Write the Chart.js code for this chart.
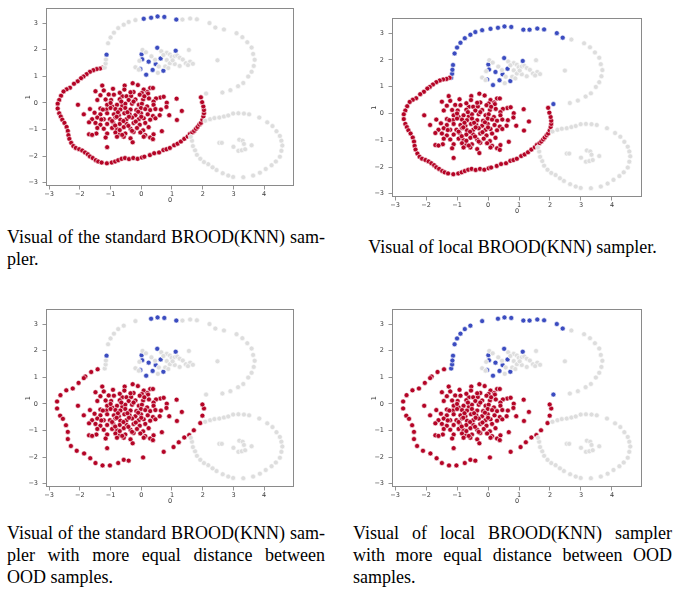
<!DOCTYPE html>
<html>
<head>
<meta charset="utf-8">
<script src="https://cdn.jsdelivr.net/npm/chart.js@4"></script>
<style>
  html, body { margin: 0; padding: 0; background: #fff; }
  body { width: 673px; height: 591px; position: relative; overflow: hidden; }
  canvas { position: absolute; }
  .cap { position: absolute; font-family: "Liberation Serif", "Times New Roman", serif;
         font-size: 18px; line-height: 22px; color: #000; }
  .cap .j { text-align: justify; text-align-last: justify; white-space: nowrap; }
  .cap .l { text-align: left; }
  .cap .c { text-align: center; }
</style>
</head>
<body>
<canvas id="p1"></canvas>
<canvas id="p2"></canvas>
<canvas id="p3"></canvas>
<canvas id="p4"></canvas>

<div class="cap" style="left:7px; top:226px; width:318px;">
  <div class="j">Visual of the standard BROOD(KNN) sam-</div>
  <div class="l">pler.</div>
</div>
<div class="cap" style="left:353px; top:236px; width:319px;">
  <div class="c">Visual of local BROOD(KNN) sampler.</div>
</div>
<div class="cap" style="left:7px; top:522px; width:318px;">
  <div class="j">Visual of the standard BROOD(KNN) sam-</div>
  <div class="j">pler with more equal distance between</div>
  <div class="l">OOD samples.</div>
</div>
<div class="cap" style="left:353px; top:522px; width:319px;">
  <div class="j">Visual of local BROOD(KNN) sampler</div>
  <div class="j">with more equal distance between OOD</div>
  <div class="l">samples.</div>
</div>

<script>
// ---- axis ticks ----
const xTicks = [-3, -2, -1, 0, 1, 2, 3, 4];
const yTicks = [-3, -2, -1, 0, 1, 2, 3];
const xLimits = [-3.10, 4.97];
const yLimits = [-3.12, 3.55];

// ---- in-distribution class 0 (red blob) ----
const redBlob = [
  [-0.28,0.74],[-1.27,0.65],[-0.54,0.65],[-0.11,0.67],[0.29,0.56],
  [-1.49,0.44],[-1.22,0.47],[-0.92,0.53],[-0.55,0.50],[0.08,0.50],[0.38,0.56],[0.20,0.41],[0.02,0.37],[-0.25,0.41],
  [-1.33,0.29],[-1.06,0.32],[-0.89,0.31],[-0.62,0.25],[-0.48,0.25],[-0.33,0.26],[-0.05,0.31],[0.22,0.35],[0.62,0.20],[0.73,0.23],[0.48,0.17],
  [-1.43,0.11],[-1.16,0.13],[-0.98,0.11],[-0.70,0.14],[-0.41,0.11],[-0.19,0.13],[0.06,0.13],[0.25,0.17],[0.40,0.05],[0.83,0.01],
  [-2.06,-0.07],[-1.11,-0.07],[-0.95,-0.13],[-0.79,-0.07],[-0.62,-0.11],[-0.52,-0.03],[-0.30,-0.03],[-0.08,-0.07],[0.02,-0.03],[0.19,-0.13],[0.40,-0.07],
  [-1.67,-0.23],[-1.33,-0.21],[-1.13,-0.25],[-1.00,-0.19],[-0.84,-0.23],[-0.68,-0.25],[-0.52,-0.19],[-0.35,-0.25],[-0.16,-0.27],[-0.01,-0.19],[0.13,-0.23],[0.29,-0.27],[0.46,-0.23],[0.64,-0.25],
  [-1.87,-0.43],[-1.52,-0.37],[-1.33,-0.43],[-1.11,-0.39],[-0.89,-0.43],[-0.73,-0.46],[-0.55,-0.39],[-0.38,-0.43],[-0.19,-0.46],[-0.01,-0.39],[0.21,-0.43],[0.38,-0.49],[0.60,-0.46],[0.91,-0.46],
  [-1.60,-0.61],[-1.43,-0.55],[-1.22,-0.61],[-1.02,-0.61],[-0.84,-0.55],[-0.68,-0.63],[-0.48,-0.61],[-0.30,-0.55],[-0.08,-0.61],[0.08,-0.58],[0.29,-0.63],[0.46,-0.58],
  [-1.70,-0.73],[-1.49,-0.75],[-1.33,-0.82],[-1.11,-0.79],[-0.92,-0.73],[-0.70,-0.79],[-0.48,-0.79],[-0.25,-0.75],[-0.05,-0.82],[0.13,-0.75],
  [-1.43,-0.94],[-1.22,-0.97],[-0.95,-0.94],[-0.79,-0.99],[-0.57,-0.91],[-0.35,-0.97],[-0.14,-0.94],[0.06,-1.03],[0.24,-0.91],[0.67,-1.06],
  [-1.70,-1.18],[-1.46,-1.15],[-1.11,-1.15],[-0.84,-1.11],[-0.70,-1.18],[-0.52,-1.15],[-0.25,-1.09],[-0.03,-1.11],[0.13,-1.21],[0.40,-1.18],
  [-1.16,-1.30],[-0.79,-1.27],[-0.57,-1.27],[-0.35,-1.33],[0.08,-1.27],[0.29,-1.30],
  [-0.28,-1.48],[-1.11,-1.66],
  [-0.65,0.05],[-0.25,0.05],[-0.76,-0.35],[-0.45,-0.35],[-0.10,-0.33],[-0.80,-0.52],[-0.40,-0.52],
  [0.00,-0.52],[-0.95,-0.68],[-0.58,-0.68],[-0.18,-0.70],[-0.85,-0.85],[-0.42,-0.86],[-0.70,-1.02],
  [-0.30,-1.05],[-0.62,-1.20],[-1.25,-0.25],[-1.30,-0.62],[-1.00,0.00],[-0.35,0.40],[-0.70,0.38],[0.10,0.25],
  [1.15,0.16],[1.32,-0.30],[1.16,-0.64],[-1.60,-1.20],[0.38,-1.36],[0.82,-0.15]
];

// ---- in-distribution class 1 (blue cluster inside the moon) ----
const blueBlob = [
  [0.52,2.07],[1.12,1.96],[0.01,1.83],[0.03,1.64],[0.63,1.67],[0.24,1.55],
  [0.47,1.46],[-0.03,1.27],[0.37,1.24],[0.72,1.21],[0.16,1.06]
];

// ---- unlabeled background samples (grey) ----
const grayCluster = [
  [0.04,1.99],[0.65,1.94],[0.83,1.88],[0.93,1.82],[0.99,1.73],[1.09,1.75],[1.17,1.78],[1.25,1.70],
  [1.35,1.63],[1.55,1.99],[-0.19,1.34],[-0.08,1.25],[-0.06,1.58],[0.33,1.75],[0.45,1.62],[0.83,1.61],
  [0.93,1.49],[1.09,1.46],[1.25,1.39],[1.45,1.49],[1.59,1.55],[1.68,1.47],[1.52,1.42],[0.57,1.37],
  [0.78,1.37],[0.88,1.31],[0.54,1.13],[0.72,1.80],[1.02,1.60],[0.15,1.90],[2.48,1.60]
];
const grayMoon = [
  [2.69,2.76],[3.10,2.62],[3.29,2.47],[3.45,2.28],[3.59,2.08],[3.64,1.84],[3.69,1.62],
  [3.66,1.39],[3.59,1.17],[3.48,0.99],[3.32,0.75],[3.15,0.63],[2.90,0.48],[2.64,0.39]
];
const grayRing = [
  [2.08,-0.67],[2.24,-0.61],[2.38,-0.57],[2.54,-0.55],[2.69,-0.51],[2.83,-0.47],[2.99,-0.40],
  [3.16,-0.39],[3.34,-0.40],[3.51,-0.43],[3.84,-0.55],[4.10,-0.73],[4.27,-0.87],[4.40,-1.06],
  [4.51,-1.24],[4.56,-1.42],[4.59,-1.60],[4.56,-1.80],[4.51,-2.02],[4.38,-2.20],[4.24,-2.34],
  [4.05,-2.48],[3.86,-2.62],[3.64,-2.73],[3.32,-2.79],[2.99,-2.78],[2.83,-2.73],[2.65,-2.64],
  [2.45,-2.52],[2.32,-2.42],[2.18,-2.30],[2.04,-2.22],[1.92,-2.10],[1.81,-1.95],[1.75,-1.78],
  [1.68,-1.62],[1.65,-1.42],[1.61,-1.27],
  [2.54,-1.50],[2.62,-1.50],[3.19,-1.38],[3.30,-1.42],[3.34,-1.54],[3.59,-1.59],
  [3.16,-1.80],[3.27,-1.78],[3.38,-1.74],[3.00,-1.65]
];

// ---- OOD samples along the upper arc ----
const arcMarked = [[-1.13,1.81],[0.08,3.16],[0.32,3.20],[0.53,3.25],[0.75,3.23],[1.14,3.13]];
const arcUnmarked = [
  [-1.19,1.33],[-1.16,1.48],[-1.15,1.63],[-1.08,2.24],[-1.00,2.46],[-0.89,2.64],[-0.75,2.81],
  [-0.57,2.94],[-0.41,3.04],[-0.19,3.11],[1.34,3.13],[1.59,3.17],[1.81,3.14],[2.22,3.00],
  [2.41,2.83],[2.11,0.35]
];
const arcDroppedEqual = [[-0.41,3.04],[0.08,3.16]];

// ---- OOD samples around the red class ----
const ringDense = [
  [-1.24,1.33],[-1.34,1.29],[-1.45,1.27],[-1.56,1.23],[-1.67,1.17],[-1.78,1.08],[-1.88,0.99],
  [-1.96,0.93],[-2.07,0.81],[-2.19,0.72],[-2.32,0.57],[-2.43,0.51],[-2.53,0.43],[-2.61,0.27],
  [-2.67,0.11],[-2.72,-0.03],[-2.72,-0.21],[-2.67,-0.39],[-2.62,-0.51],[-2.57,-0.63],[-2.50,-0.75],
  [-2.43,-0.90],[-2.39,-1.05],[-2.37,-1.21],[-2.34,-1.35],[-2.28,-1.50],[-2.21,-1.62],[-2.13,-1.69],
  [-2.02,-1.74],[-1.92,-1.79],[-1.83,-1.86],[-1.74,-1.93],[-1.67,-2.01],[-1.58,-2.07],[-1.48,-2.15],
  [-1.40,-2.20],[-1.29,-2.24],[-1.12,-2.27],[-0.96,-2.24],[-0.85,-2.20],[-0.75,-2.15],[-0.64,-2.10],
  [-0.53,-2.07],[-0.40,-2.11],[-0.26,-2.07],[-0.12,-2.10],[0.02,-2.05],[0.10,-2.02],[0.28,-1.96],
  [0.42,-1.89],[0.58,-1.86],[0.72,-1.77],[0.82,-1.74],[0.93,-1.69],[1.07,-1.59],[1.18,-1.53],
  [1.29,-1.45],[1.40,-1.35],[1.51,-1.26],[1.58,-1.17],[1.66,-1.11],[1.72,-1.05],[1.78,-0.97],
  [1.83,-0.90],[1.89,-0.81],[1.94,-0.75],[1.99,-0.63],[2.02,-0.51],[2.04,-0.39],[2.04,-0.27],
  [2.02,-0.13],[1.98,0.03],[1.94,0.21]
];
const ringSparse = [
  [-1.42,1.30],[-1.63,1.20],[-1.82,1.03],[-1.87,0.97],[-2.04,0.79],[-2.23,0.58],[-2.44,0.51],
  [-2.63,0.33],[-2.74,0.09],[-2.74,-0.17],[-2.64,-0.44],[-2.55,-0.56],[-2.45,-0.80],[-2.39,-1.05],
  [-2.39,-1.32],[-2.29,-1.58],[-2.10,-1.76],[-1.86,-1.86],[-1.66,-2.04],[-1.49,-2.22],[-1.26,-2.31],
  [-1.02,-2.31],[-0.75,-2.22],[-0.57,-2.10],[-0.41,-2.13],[0.06,-2.01],[0.73,-1.80],[1.05,-1.62],
  [1.22,-1.44],[1.40,-1.26],[1.56,-1.17],[1.71,-0.99],[1.92,-0.72],[1.99,-0.44],[2.04,-0.17],
  [1.99,-0.02]
];

// ---- colours (coolwarm palette) ----
const RED = '#b40426', BLUE = '#3b4cc0', GREY = '#dddddd';

// ---- figure layout: canvas boxes for the four panels ----
const AXIS_W = 26, AXIS_H = 18, PAD_T = 1, PAD_R = 6;
const panels = [
  { id: 'p1', left: 20,  top: 0,   plotW: 248, plotH: 185, ring: ringDense,  local: false, equal: false },
  { id: 'p2', left: 366, top: 10,  plotW: 250, plotH: 186, ring: ringDense,  local: true,  equal: false },
  { id: 'p3', left: 20,  top: 301, plotW: 248, plotH: 185, ring: ringSparse, local: false, equal: true  },
  { id: 'p4', left: 366, top: 301, plotW: 250, plotH: 185, ring: ringSparse, local: true,  equal: true  }
];

const toXY = arr => arr.map(([x, y]) => ({ x, y }));
const same = (a, b) => a[0] === b[0] && a[1] === b[1];
const isDropped = p => arcDroppedEqual.some(q => same(p, q));
const keep = (arr, equal) => equal ? arr.filter(p => !isDropped(p)) : arr;
const fmt = v => (v < 0 ? '\u2212' + Math.abs(v) : String(v));

// full rectangular frame round the plotting area
const framePlugin = {
  id: 'frame',
  afterDatasetsDraw(chart) {
    const { ctx, chartArea: a } = chart;
    ctx.save();
    ctx.strokeStyle = '#8a8a8a';
    ctx.lineWidth = 1;
    ctx.strokeRect(Math.round(a.left) + 0.5, Math.round(a.top) + 0.5,
                   Math.round(a.right - a.left) - 1, Math.round(a.bottom - a.top) - 1);
    ctx.restore();
  }
};

const tickFont = { family: 'DejaVu Sans', size: 6.5 };

function makeScale(limits, ticks, title, isX) {
  return {
    type: 'linear',
    min: limits[0],
    max: limits[1],
    afterBuildTicks: s => { s.ticks = ticks.map(v => ({ value: v })); },
    afterFit: s => { if (isX) s.height = AXIS_H; else s.width = AXIS_W; },
    border: { display: false },
    grid: { display: true, drawOnChartArea: false, drawTicks: true, tickLength: 3.5, color: '#7a7a7a', lineWidth: 0.8 },
    ticks: { font: tickFont, color: '#3a3a3a', padding: isX ? 1 : 4.5, maxRotation: 0, autoSkip: false, callback: v => fmt(v) },
    title: { display: true, text: title, font: tickFont, color: '#3a3a3a',
             padding: isX ? { top: 0, bottom: 0 } : { top: 4.6, bottom: 0 } }
  };
}

panels.forEach(p => {
  const cv = document.getElementById(p.id);
  const W = AXIS_W + p.plotW + PAD_R;
  const H = PAD_T + p.plotH + AXIS_H;
  cv.width = W; cv.height = H;
  cv.style.left = p.left + 'px'; cv.style.top = p.top + 'px';
  cv.style.width = W + 'px'; cv.style.height = H + 'px';

  const arcBlue = keep(p.local ? arcMarked.concat(arcUnmarked) : arcMarked, p.equal);
  const arcGrey = keep(p.local ? [] : arcUnmarked, p.equal);

  const grey = grayCluster.concat(grayMoon, grayRing, arcGrey);
  const red = redBlob.concat(p.ring);
  const blue = blueBlob.concat(arcBlue);

  const ds = (pts, color) => ({
    data: toXY(pts),
    backgroundColor: color,
    borderColor: '#ffffff',
    borderWidth: 0.6,
    pointRadius: 2.5,
    pointHoverRadius: 2.5
  });

  new Chart(cv, {
    type: 'scatter',
    data: { datasets: [ds(grey, GREY), ds(red, RED), ds(blue, BLUE)] },
    options: {
      responsive: false,
      devicePixelRatio: 1,
      animation: false,
      events: [],
      layout: { padding: { top: PAD_T, right: PAD_R, left: 0, bottom: 0 } },
      plugins: { legend: { display: false }, tooltip: { enabled: false } },
      scales: {
        x: makeScale(xLimits, xTicks, '0', true),
        y: makeScale(yLimits, yTicks, '1', false)
      }
    },
    plugins: [framePlugin]
  });
});
</script>
</body>
</html>
